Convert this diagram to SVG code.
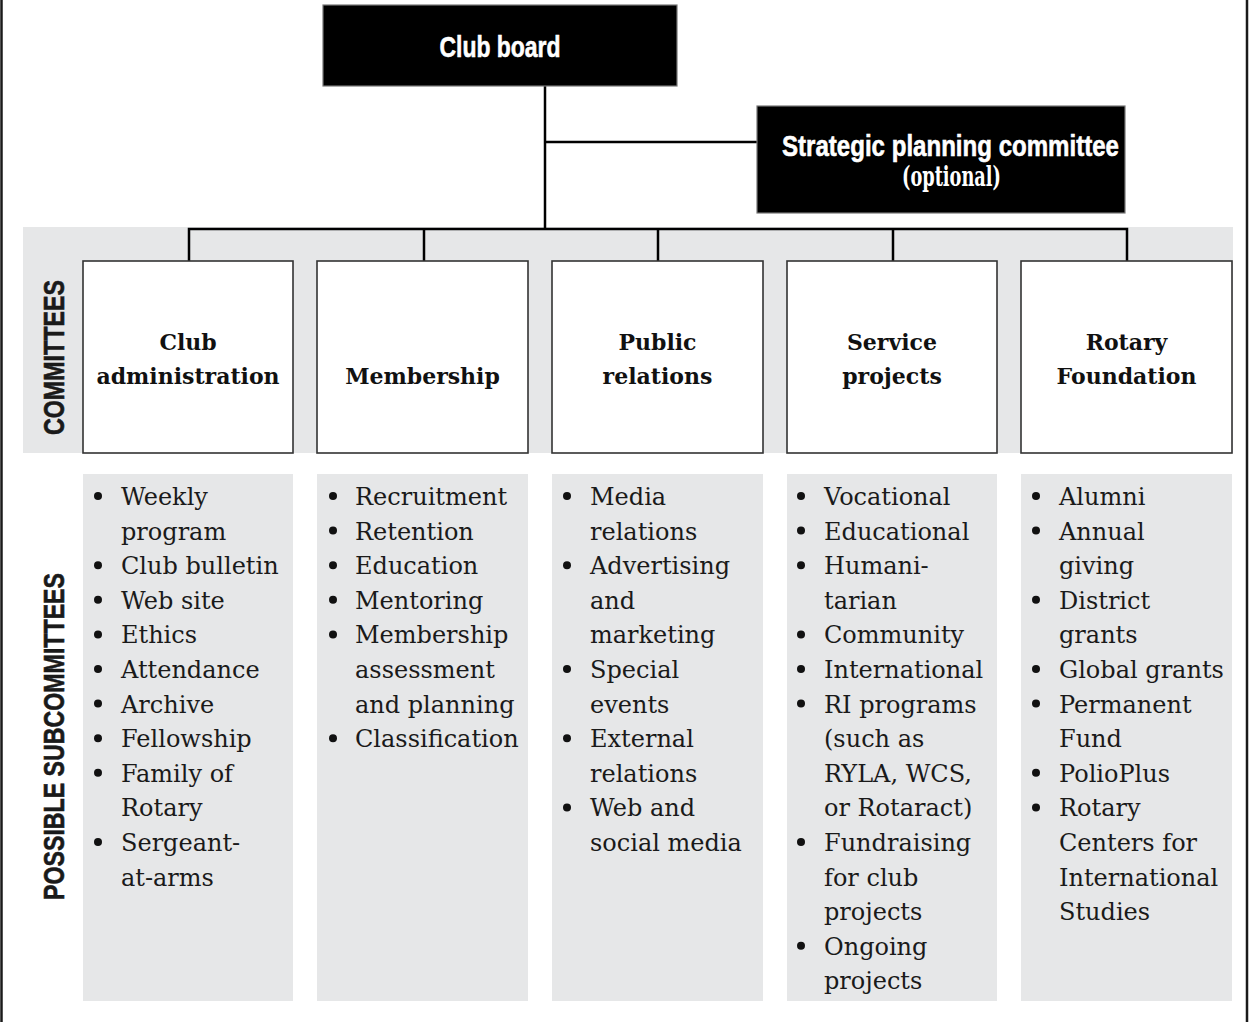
<svg xmlns="http://www.w3.org/2000/svg" width="1249" height="1022" viewBox="0 0 1249 1022">
<style>
.frame{stroke:#1a1a1a;stroke-width:2.5;fill:none}
.conn{stroke:#000;stroke-width:2.5;fill:none}
.band{fill:#e6e7e8}
.dark{fill:#000;stroke:#777;stroke-width:1.2}
.comm{fill:#fff;stroke:#333;stroke-width:1.6}
.sub{fill:#e6e7e8}
.cond{font-family:"Liberation Sans Narrow","Liberation Sans",Arial,sans-serif;font-weight:bold}
.white{fill:#fff;stroke:#fff;stroke-width:0.6}
.title{font-family:"DejaVu Serif","Liberation Serif",serif;font-weight:bold;font-size:22px;fill:#111;text-anchor:middle}
.item{font-family:"DejaVu Serif","Liberation Serif",serif;font-size:24px;fill:#1a1a1a}
.side{font-family:"Liberation Sans Narrow","Liberation Sans",Arial,sans-serif;font-weight:bold;font-size:30px;fill:#1a1a1a;stroke:#1a1a1a;stroke-width:0.6;text-anchor:middle}
</style>
<rect x="0" y="0" width="1249" height="1022" fill="#fff"/>
<line class="frame" x1="1.5" y1="0" x2="1.5" y2="1022"/>
<line class="frame" x1="1247" y1="0" x2="1247" y2="1022"/>
<rect class="band" x="23" y="227" width="1210" height="226"/>
<g id="connectors">
<line class="conn" x1="545" y1="86" x2="545" y2="229"/>
<line class="conn" x1="545" y1="142" x2="757" y2="142"/>
<polyline class="conn" points="189,261 189,229 1127,229 1127,261"/>
<line class="conn" x1="424" y1="229" x2="424" y2="261"/>
<line class="conn" x1="658" y1="229" x2="658" y2="261"/>
<line class="conn" x1="893" y1="229" x2="893" y2="261"/>
</g>
<g id="club-board">
<rect class="dark" x="323" y="5" width="354" height="81"/>
<text class="cond white" x="500" y="57" font-size="30" text-anchor="middle" textLength="121" lengthAdjust="spacingAndGlyphs">Club board</text>
</g>
<g id="strategic-planning">
<rect class="dark" x="757" y="106" width="368" height="107"/>
<text class="cond white" x="950.5" y="156" font-size="30" text-anchor="middle" textLength="337" lengthAdjust="spacingAndGlyphs">Strategic planning committee</text>
<text x="951.5" y="186" fill="#fff" font-family="DejaVu Serif,Liberation Serif,serif" font-size="28" font-weight="bold" text-anchor="middle" textLength="99" lengthAdjust="spacingAndGlyphs">(optional)</text>
</g>
<g id="label-committees">
<text class="side" transform="translate(64,357.5) rotate(-90)" textLength="155" lengthAdjust="spacingAndGlyphs">COMMITTEES</text>
</g>
<g id="label-subcommittees">
<text class="side" transform="translate(64,736.5) rotate(-90)" textLength="327" lengthAdjust="spacingAndGlyphs">POSSIBLE SUBCOMMITTEES</text>
</g>
<g id="committee-club-administration">
<rect class="comm" x="83" y="261" width="210" height="192"/>
<text class="title" x="188" y="350">Club</text>
<text class="title" x="188" y="384">administration</text>
</g>
<g id="committee-membership">
<rect class="comm" x="317" y="261" width="211" height="192"/>
<text class="title" x="422.5" y="384">Membership</text>
</g>
<g id="committee-public-relations">
<rect class="comm" x="552" y="261" width="211" height="192"/>
<text class="title" x="657.5" y="350">Public</text>
<text class="title" x="657.5" y="384">relations</text>
</g>
<g id="committee-service-projects">
<rect class="comm" x="787" y="261" width="210" height="192"/>
<text class="title" x="892" y="350">Service</text>
<text class="title" x="892" y="384">projects</text>
</g>
<g id="committee-rotary-foundation">
<rect class="comm" x="1021" y="261" width="211" height="192"/>
<text class="title" x="1126.5" y="350">Rotary</text>
<text class="title" x="1126.5" y="384">Foundation</text>
</g>
<g id="sub-club-administration">
<rect class="sub" x="83" y="474" width="210" height="527"/>
<g fill="#111"><circle cx="98" cy="496" r="4"/><circle cx="98" cy="565.2" r="4"/><circle cx="98" cy="599.8" r="4"/><circle cx="98" cy="634.4" r="4"/><circle cx="98" cy="669" r="4"/><circle cx="98" cy="703.6" r="4"/><circle cx="98" cy="738.2" r="4"/><circle cx="98" cy="772.8" r="4"/><circle cx="98" cy="842" r="4"/></g>
<text class="item"><tspan x="121" y="505">Weekly</tspan><tspan x="121" y="539.6">program</tspan><tspan x="121" y="574.2">Club bulletin</tspan><tspan x="121" y="608.8">Web site</tspan><tspan x="121" y="643.4">Ethics</tspan><tspan x="121" y="678">Attendance</tspan><tspan x="121" y="712.6">Archive</tspan><tspan x="121" y="747.2">Fellowship</tspan><tspan x="121" y="781.8">Family of</tspan><tspan x="121" y="816.4">Rotary</tspan><tspan x="121" y="851">Sergeant-</tspan><tspan x="121" y="885.6">at-arms</tspan></text>
</g>
<g id="sub-membership">
<rect class="sub" x="317" y="474" width="211" height="527"/>
<g fill="#111"><circle cx="333" cy="496" r="4"/><circle cx="333" cy="530.6" r="4"/><circle cx="333" cy="565.2" r="4"/><circle cx="333" cy="599.8" r="4"/><circle cx="333" cy="634.4" r="4"/><circle cx="333" cy="738.2" r="4"/></g>
<text class="item"><tspan x="355" y="505">Recruitment</tspan><tspan x="355" y="539.6">Retention</tspan><tspan x="355" y="574.2">Education</tspan><tspan x="355" y="608.8">Mentoring</tspan><tspan x="355" y="643.4">Membership</tspan><tspan x="355" y="678">assessment</tspan><tspan x="355" y="712.6">and planning</tspan><tspan x="355" y="747.2">Classification</tspan></text>
</g>
<g id="sub-public-relations">
<rect class="sub" x="552" y="474" width="211" height="527"/>
<g fill="#111"><circle cx="567" cy="496" r="4"/><circle cx="567" cy="565.2" r="4"/><circle cx="567" cy="669" r="4"/><circle cx="567" cy="738.2" r="4"/><circle cx="567" cy="807.4" r="4"/></g>
<text class="item"><tspan x="590" y="505">Media</tspan><tspan x="590" y="539.6">relations</tspan><tspan x="590" y="574.2">Advertising</tspan><tspan x="590" y="608.8">and</tspan><tspan x="590" y="643.4">marketing</tspan><tspan x="590" y="678">Special</tspan><tspan x="590" y="712.6">events</tspan><tspan x="590" y="747.2">External</tspan><tspan x="590" y="781.8">relations</tspan><tspan x="590" y="816.4">Web and</tspan><tspan x="590" y="851">social media</tspan></text>
</g>
<g id="sub-service-projects">
<rect class="sub" x="787" y="474" width="210" height="527"/>
<g fill="#111"><circle cx="801" cy="496" r="4"/><circle cx="801" cy="530.6" r="4"/><circle cx="801" cy="565.2" r="4"/><circle cx="801" cy="634.4" r="4"/><circle cx="801" cy="669" r="4"/><circle cx="801" cy="703.6" r="4"/><circle cx="801" cy="842" r="4"/><circle cx="801" cy="945.8" r="4"/></g>
<text class="item"><tspan x="824" y="505">Vocational</tspan><tspan x="824" y="539.6">Educational</tspan><tspan x="824" y="574.2">Humani-</tspan><tspan x="824" y="608.8">tarian</tspan><tspan x="824" y="643.4">Community</tspan><tspan x="824" y="678">International</tspan><tspan x="824" y="712.6">RI programs</tspan><tspan x="824" y="747.2">(such as</tspan><tspan x="824" y="781.8">RYLA, WCS,</tspan><tspan x="824" y="816.4">or Rotaract)</tspan><tspan x="824" y="851">Fundraising</tspan><tspan x="824" y="885.6">for club</tspan><tspan x="824" y="920.2">projects</tspan><tspan x="824" y="954.8">Ongoing</tspan><tspan x="824" y="989.4">projects</tspan></text>
</g>
<g id="sub-rotary-foundation">
<rect class="sub" x="1021" y="474" width="211" height="527"/>
<g fill="#111"><circle cx="1036" cy="496" r="4"/><circle cx="1036" cy="530.6" r="4"/><circle cx="1036" cy="599.8" r="4"/><circle cx="1036" cy="669" r="4"/><circle cx="1036" cy="703.6" r="4"/><circle cx="1036" cy="772.8" r="4"/><circle cx="1036" cy="807.4" r="4"/></g>
<text class="item"><tspan x="1059" y="505">Alumni</tspan><tspan x="1059" y="539.6">Annual</tspan><tspan x="1059" y="574.2">giving</tspan><tspan x="1059" y="608.8">District</tspan><tspan x="1059" y="643.4">grants</tspan><tspan x="1059" y="678">Global grants</tspan><tspan x="1059" y="712.6">Permanent</tspan><tspan x="1059" y="747.2">Fund</tspan><tspan x="1059" y="781.8">PolioPlus</tspan><tspan x="1059" y="816.4">Rotary</tspan><tspan x="1059" y="851">Centers for</tspan><tspan x="1059" y="885.6">International</tspan><tspan x="1059" y="920.2">Studies</tspan></text>
</g>
</svg>
